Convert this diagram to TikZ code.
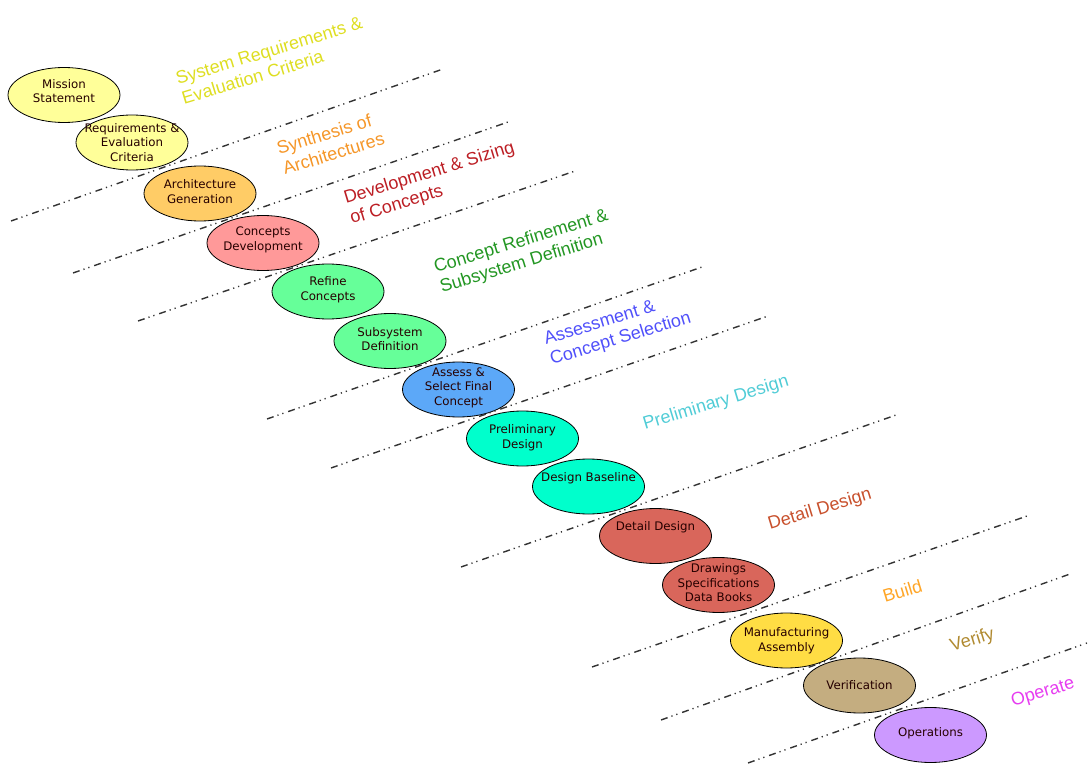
\documentclass[tikz,border=0pt]{standalone}
\usepackage{fontspec}
\setmainfont{Liberation Sans}
\newfontfamily\stagefont{DejaVu Sans}
\usetikzlibrary{positioning,shapes.geometric}

\definecolor{paleyellow}{HTML}{FFFF99}
\definecolor{paleorange}{HTML}{FFCC66}
\definecolor{palepink}{HTML}{FF9999}
\definecolor{palegreen}{HTML}{66FF99}
\definecolor{skyblue}{HTML}{5CA8F8}
\definecolor{aqua}{HTML}{00FFCC}
\definecolor{brick}{HTML}{D9665B}
\definecolor{gold}{HTML}{FFDD44}
\definecolor{tan}{HTML}{C4AD80}
\definecolor{lavender}{HTML}{CC99FF}
\definecolor{linegray}{HTML}{333333}

\begin{document}
\begin{tikzpicture}[x=1pt,y=-1pt]
            \tikzstyle{stage} = [ellipse, draw=black, line width=0.8pt, minimum width=112pt, minimum height=55pt, inner sep=0pt]
            \tikzstyle{stagetext} = [align=center, inner sep=0pt, text=black!85!red, font=\stagefont\fontsize{11.8}{14.5}\selectfont]
            \tikzstyle{phase} = [rotate=17, anchor=base west, align=left, inner sep=0pt, font=\fontsize{18}{21}\selectfont]
            \tikzstyle{divider} = [line width=1.4pt, draw=linegray, dash pattern=on 7pt off 4pt on 1.2pt off 4pt on 1.2pt off 5pt]

            \useasboundingbox (0,0) rectangle (1088,765);

            % Stages
            \node (mission) [stage, fill=paleyellow] at (64,95) {};
            \node (mission-t) [stagetext, yshift=4pt] at (mission) {Mission\\Statement};
            \node (req) [stage, fill=paleyellow] at (132,142.5) {};
            \node (req-t) [stagetext] at (req) {Requirements \&\\Evaluation\\Criteria};
            \node (arch) [stage, fill=paleorange] at (200,193.5) {};
            \node (arch-t) [stagetext, yshift=2pt] at (arch) {Architecture\\Generation};
            \node (concepts) [stage, fill=palepink] at (263,243) {};
            \node (concepts-t) [stagetext, yshift=3pt] at (concepts) {Concepts\\Development};
            \node (refine) [stage, fill=palegreen] at (328,291.5) {};
            \node (refine-t) [stagetext, yshift=2pt] at (refine) {Refine\\Concepts};
            \node (subsys) [stage, fill=palegreen] at (390,341) {};
            \node (subsys-t) [stagetext, yshift=2pt] at (subsys) {Subsystem\\Definition};
            \node (assess) [stage, fill=skyblue] at (458.5,389.5) {};
            \node (assess-t) [stagetext, yshift=2pt] at (assess) {Assess \&\\Select Final\\Concept};
            \node (prelim) [stage, fill=aqua] at (522.5,438.5) {};
            \node (prelim-t) [stagetext, yshift=1pt] at (prelim) {Preliminary\\Design};
            \node (baseline) [stage, fill=aqua] at (588.5,486.5) {};
            \node (baseline-t) [stagetext, yshift=8pt] at (baseline) {Design Baseline};
            \node (detail) [stage, fill=brick] at (655.5,536) {};
            \node (detail-t) [stagetext, yshift=9pt] at (detail) {Detail Design};
            \node (drawings) [stage, fill=brick] at (718.5,585) {};
            \node (drawings-t) [stagetext, yshift=2pt] at (drawings) {Drawings\\Specifications\\Data Books};
            \node (manuf) [stage, fill=gold] at (786.5,640.5) {};
            \node (manuf-t) [stagetext] at (manuf) {Manufacturing\\Assembly};
            \node (verif) [stage, fill=tan] at (859.5,685.5) {};
            \node (verif-t) [stagetext] at (verif) {Verification};
            \node (ops) [stage, fill=lavender] at (930.5,735) {};
            \node (ops-t) [stagetext, yshift=2pt] at (ops) {Operations};

            % Phase labels (anchored on the last line)
            \node (ph-req) [phase, text={rgb,255:red,222;green,222;blue,34}] at (184,105) {System Requirements \&\\Evaluation Criteria};
            \node (ph-synth) [phase, text={rgb,255:red,245;green,150;blue,40}] at (285,175) {Synthesis of\\Architectures};
            \node (ph-dev) [phase, text={rgb,255:red,188;green,30;blue,36}] at (352,224) {Development \& Sizing\\of Concepts};
            \node (ph-refine) [phase, text={rgb,255:red,34;green,150;blue,34}] at (442,293) {Concept Refinement \&\\Subsystem Definition};
            \node (ph-assess) [phase, text={rgb,255:red,80;green,80;blue,250}] at (552,365) {Assessment \&\\Concept Selection};
            \node (ph-prelim) [phase, text={rgb,255:red,80;green,204;blue,214}] at (645,430) {Preliminary Design};
            \node (ph-detail) [phase, text={rgb,255:red,200;green,80;blue,44}] at (770,530) {Detail Design};
            \node (ph-build) [phase, text={rgb,255:red,255;green,165;blue,38}] at (885,603) {Build};
            \node (ph-verify) [phase, text={rgb,255:red,176;green,138;blue,48}] at (952,652) {Verify};
            \node (ph-operate) [phase, text={rgb,255:red,230;green,60;blue,240}] at (1013,707) {Operate};

            % Phase boundaries
            \draw [divider] (11,221) -- (443,69);
            \draw [divider] (73,273) -- (511,121);
            \draw [divider] (138,321) -- (575,171);
            \draw [divider] (267,419) -- (702,267);
            \draw [divider] (331,468) -- (768,316);
            \draw [divider] (461,567) -- (899,414);
            \draw [divider] (592,667) -- (1030,515);
            \draw [divider] (661,720) -- (1070,574);
            \draw [divider] (748,763) -- (1087,643);
\end{tikzpicture}
\end{document}
